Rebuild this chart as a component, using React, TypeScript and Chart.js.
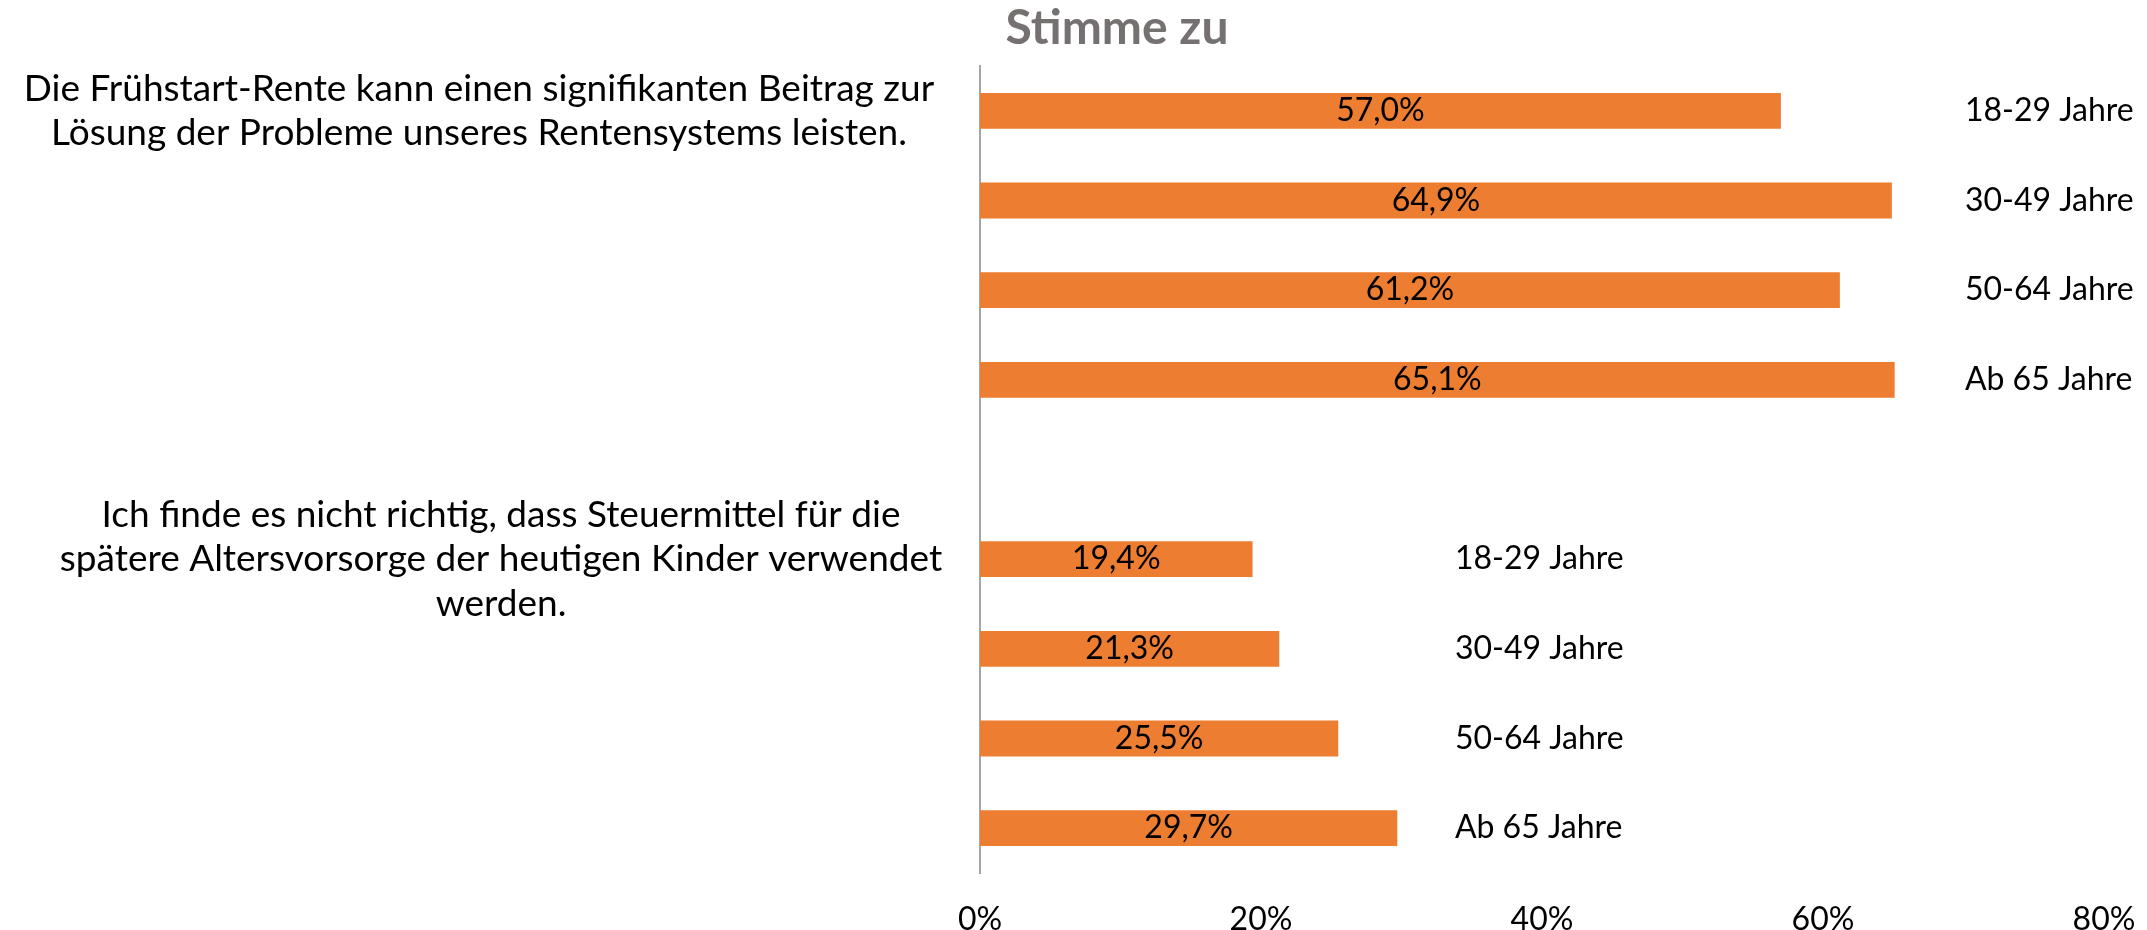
import React, { useEffect, useRef } from 'react';
import { Chart, registerables } from 'chart.js';

Chart.register(...registerables);

// ---- data ----
const chartTitle = 'Stimme zu';
const ageGroups = ['18-29 Jahre', '30-49 Jahre', '50-64 Jahre', 'Ab 65 Jahre'];
const statements: string[][] = [
  ['Die Frühstart-Rente kann einen signifikanten Beitrag zur', 'Lösung der Probleme unseres Rentensystems leisten.'],
  ['Ich finde es nicht richtig, dass Steuermittel für die', 'spätere Altersvorsorge der heutigen Kinder verwendet', 'werden.'],
];
const agreeFruehstart = [57.0, 64.9, 61.2, 65.1];
const agreeSteuermittel = [19.4, 21.3, 25.5, 29.7];
const xTickValues = [0, 20, 40, 60, 80];

const FONT = 'Lato, "Noto Sans", sans-serif';
const W = 2147;
const H = 930;

// slots: group 1 (4 bars), empty spacer, group 2 (4 bars)
const slotLabels = [...ageGroups, '', ...ageGroups];
const slotValues: (number | null)[] = [...agreeFruehstart, null, ...agreeSteuermittel];
const slotGroup = [0, 0, 0, 0, -1, 1, 1, 1, 1];
const groupStart = [0, 5];

const fmt = (v: number) => v.toFixed(1).replace('.', ',') + '%';

const annotatePlugin = {
  id: 'annotate',
  afterDraw(chart: any, _args: any, opts: any) {
    const ctx = chart.ctx;
    const meta = chart.getDatasetMeta(0);
    const xs = chart.scales.x;
    const ys = chart.scales.y;
    ctx.save();
    // title
    ctx.fillStyle = '#767171';
    ctx.font = `bold 48px ${FONT}`;
    ctx.textAlign = 'center';
    ctx.textBaseline = 'middle';
    ctx.fillText(chartTitle, opts.titleX, opts.titleY);

    // value labels inside bars + age labels
    meta.data.forEach((bar: any, i: number) => {
      const v = slotValues[i];
      if (v == null) return;
      ctx.fillStyle = '#000';
      ctx.font = `32px ${FONT}`;
      ctx.textAlign = 'center';
      ctx.textBaseline = 'middle';
      ctx.fillText(fmt(v), (bar.x + bar.base) / 2, bar.y);
      const g = slotGroup[i];
      ctx.textAlign = 'left';
      ctx.fillText(slotLabels[i], xs.getPixelForValue(opts.ageLabelAt[g]), bar.y);
    });

    // statements (category labels)
    ctx.font = `37px ${FONT}`;
    ctx.fillStyle = '#000';
    ctx.textAlign = 'center';
    ctx.textBaseline = 'middle';
    statements.forEach((lines, g) => {
      const cy = ys.getPixelForValue(groupStart[g]);
      const lh = opts.lineHeight;
      const y0 = cy - ((lines.length - 1) * lh) / 2;
      lines.forEach((ln, k) => ctx.fillText(ln, opts.statementX[g], y0 + k * lh));
    });
    ctx.restore();
  },
};

export default function App() {
  const ref = useRef<HTMLCanvasElement>(null);
  useEffect(() => {
    document.body.style.margin = '0';
    const chart = new Chart(ref.current!, {
      type: 'bar',
      data: {
        labels: slotLabels.map((l, i) => (i === 4 ? ' ' : l + '#' + i)),
        datasets: [
          {
            data: slotValues,
            backgroundColor: '#ED7D31',
            borderWidth: 0,
            barPercentage: 0.4,
            categoryPercentage: 1.0,
          },
        ],
      },
      options: {
        indexAxis: 'y',
        responsive: false,
        animation: false,
        layout: { padding: { top: 66, right: 43, left: 0, bottom: 0 } },
        plugins: {
          legend: { display: false },
          tooltip: { enabled: false },
          title: { display: false },
          annotate: {
            titleX: 1117,
            titleY: 29,
            ageLabelAt: [70.1, 33.8],
            statementX: [479, 501],
            lineHeight: 44.5,
          },
        } as any,
        scales: {
          x: {
            type: 'linear',
            min: xTickValues[0],
            max: xTickValues[xTickValues.length - 1],
            afterBuildTicks: (s: any) => {
              s.ticks = xTickValues.map((v) => ({ value: v }));
            },
            ticks: {
              callback: (v: any) => v + '%',
              font: { family: FONT, size: 32 },
              color: '#000',
              padding: 27,
              maxRotation: 0,
            },
            grid: { display: false, drawTicks: false },
            border: { display: false },
            afterFit: (s: any) => {
              s.height = 57;
              s.paddingLeft = 0;
              s.paddingRight = 0;
            },
          },
          y: {
            type: 'category',
            ticks: { display: false },
            grid: { display: false, drawTicks: false },
            border: { display: true, color: '#A6A6A6', width: 2 },
            afterFit: (s: any) => {
              s.width = 980;
              s.paddingTop = 0;
              s.paddingBottom = 0;
            },
          },
        },
      },
      plugins: [annotatePlugin],
    });
    return () => chart.destroy();
  }, []);
  return (
    <div style={{ position: 'fixed', left: 0, top: 0, width: W, height: H, background: '#fff' }}>
      <canvas ref={ref} width={W} height={H} style={{ display: 'block' }} />
    </div>
  );
}
